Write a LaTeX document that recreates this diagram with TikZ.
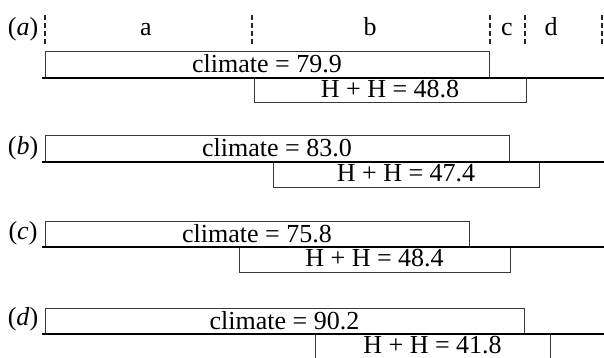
\documentclass[tikz,border=0pt]{standalone}
\usepackage{fontspec}
\setmainfont{Liberation Serif}
\begin{document}
\begin{tikzpicture}[x=1pt,y=-1pt,
  every node/.style={font=\fontsize{26}{28}\selectfont, inner sep=0pt, outer sep=0pt},
  bar/.style={draw=black!78, line width=1pt, rectangle, anchor=north west},
  base/.style={line width=2pt, black},
  sep/.style={line width=1.1pt, black!85, dash pattern=on 5pt off 3pt},
  tag/.style={anchor=base}]
\useasboundingbox (0,0) rectangle (604,358);

% panel (a): periods a--d marked by dashed separators
\foreach \n/\x in {s0/45, s1/252, s2/490, s3/525, s4/602}{
  \coordinate (\n t) at (\x,15);
  \coordinate (\n b) at (\x,45);
  \draw[sep] (\n t) -- (\n b);
}
\node[tag] (pa) at (146,36) {a};
\node[tag] (pb) at (370,36) {b};
\node[tag] (pc) at (507,36) {c};
\node[tag] (pd) at (551,36) {d};
\node[tag] (labA) at (23,36) {(\textit{a})};

% one panel: climate bar, baseline, H+H bar (and the panel letter for b--d)
\foreach \p/\top/\cr/\hl/\hr/\cv/\hv in {
  A/52/489/254/526/79.9/48.8,
  B/136/509/273/539/83.0/47.4,
  C/221/469/239/510/75.8/48.4,
  D/308/524/315/550/90.2/41.8}{
  \pgfmathsetmacro{\cw}{\cr-45}
  \pgfmathsetmacro{\hw}{\hr-\hl}
  \pgfmathsetmacro{\cx}{(45+\cr)/2}
  \pgfmathsetmacro{\hx}{(\hl+\hr)/2}
  \node[bar, minimum width=\cw pt, minimum height=26pt] (clim\p) at (45,\top) {};
  \node[tag] (climtxt\p) at (\cx,\top+21) {climate = \cv};
  \node[bar, minimum width=\hw pt, minimum height=25pt] (hh\p) at (\hl,\top+26) {};
  \node[tag, text depth=0pt] (hhtxt\p) at (\hx,\top+45.5) {H + H = \hv};
  \coordinate (bl\p) at (42,\top+26);
  \coordinate (br\p) at (604,\top+26);
  \draw[base] (bl\p) -- (br\p);
}
\node[tag] (labB) at (23,136+18) {(\textit{b})};
\node[tag] (labC) at (23,221+18) {(\textit{c})};
\node[tag] (labD) at (23,308+17) {(\textit{d})};
\end{tikzpicture}
\end{document}
